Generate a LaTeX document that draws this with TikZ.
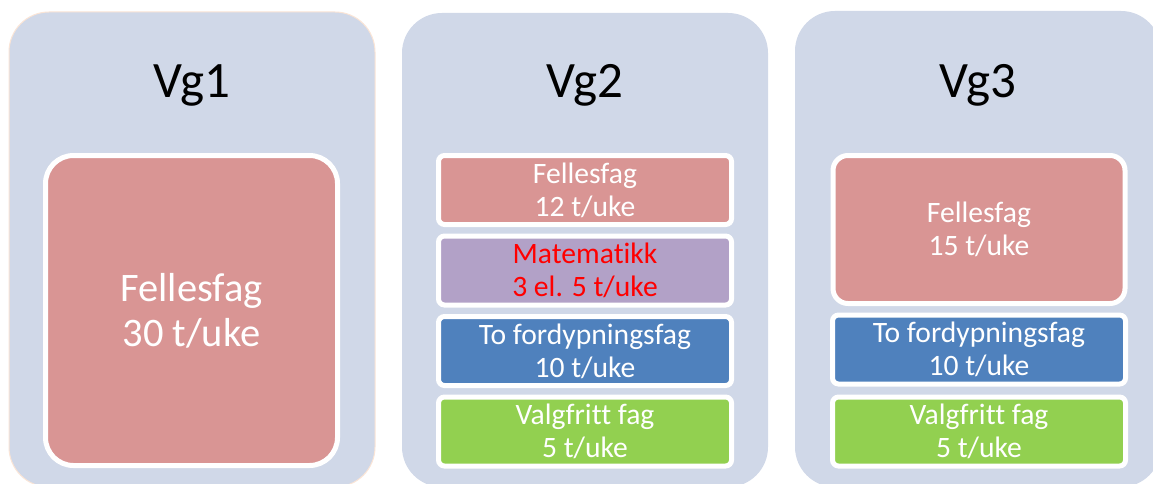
\documentclass[tikz,border=0pt]{standalone}
\usepackage{fontspec}
\setmainfont[Ligatures=NoCommon]{Carlito}
\definecolor{colbg}{HTML}{D0D8E8}
\definecolor{fellred}{HTML}{D99594}
\definecolor{mathpurple}{HTML}{B2A1C7}
\definecolor{fordblue}{HTML}{4F81BD}
\definecolor{valggreen}{HTML}{92D050}
\definecolor{peach}{HTML}{FBE5D6}
\definecolor{mathred}{HTML}{FF0000}
\tikzset{
  colbox/.style={fill=colbg, rounded corners=40pt, minimum width=366pt, inner sep=0pt, outer sep=0pt},
  title/.style={anchor=base, text=black, font=\fontsize{51}{61}\selectfont, inner sep=0pt},
  subj/.style={draw=white, line width=5pt, rounded corners=6pt, minimum width=293pt, minimum height=69pt,
    inner sep=0pt, outer sep=0pt, align=center, text=white, font=\fontsize{29.6}{33}\selectfont},
  bigsubj/.style={draw=white, line width=5pt, minimum width=292pt, inner sep=0pt, outer sep=0pt,
    align=center, text=white}
}
\begin{document}
\begin{tikzpicture}[x=1pt,y=-1pt]
\useasboundingbox (0,0) rectangle (1153,484);
\clip (0,0) rectangle (1153,484);
\fill[white] (0,0) rectangle (1153,484);
% columns
\node[colbox, draw=peach, line width=1pt, minimum height=475pt] (c1) at (192,249.5) {};
\node[colbox, minimum height=474pt] (c2) at (585,250) {};
\node[colbox, minimum height=476pt] (c3) at (978,249) {};
% titles
\node[title] (t1) at (192,98) {Vg1};
\node[title] (t2) at (585,98) {Vg2};
\node[title] (t3) at (978,98) {Vg3};
% Vg1
\node[bigsubj, fill=fellred, rounded corners=28pt, minimum height=310pt,
  font=\fontsize{40.5}{45}\selectfont] (v1f) at (191.5,310.5) {Fellesfag\\30 t/uke};
% Vg2
\node[subj, fill=fellred] (v2f) at (585,190) {Fellesfag\\12 t/uke};
\node[subj, fill=mathpurple, text=mathred] (v2m) at (585,270.5) {Matematikk\\3 el. 5 t/uke};
\node[subj, fill=fordblue] (v2d) at (585,351) {To fordypningsfag\\10 t/uke};
\node[subj, fill=valggreen] (v2v) at (585,431.5) {Valgfritt fag\\5 t/uke};
% Vg3
\node[bigsubj, fill=fellred, rounded corners=15pt, minimum height=148pt,
  font=\fontsize{29.6}{33}\selectfont] (v3f) at (979,229.5) {Fellesfag\\15 t/uke};
\node[subj, fill=fordblue] (v3d) at (979,349.5) {To fordypningsfag\\10 t/uke};
\node[subj, fill=valggreen] (v3v) at (979,431.5) {Valgfritt fag\\5 t/uke};
\end{tikzpicture}
\end{document}
